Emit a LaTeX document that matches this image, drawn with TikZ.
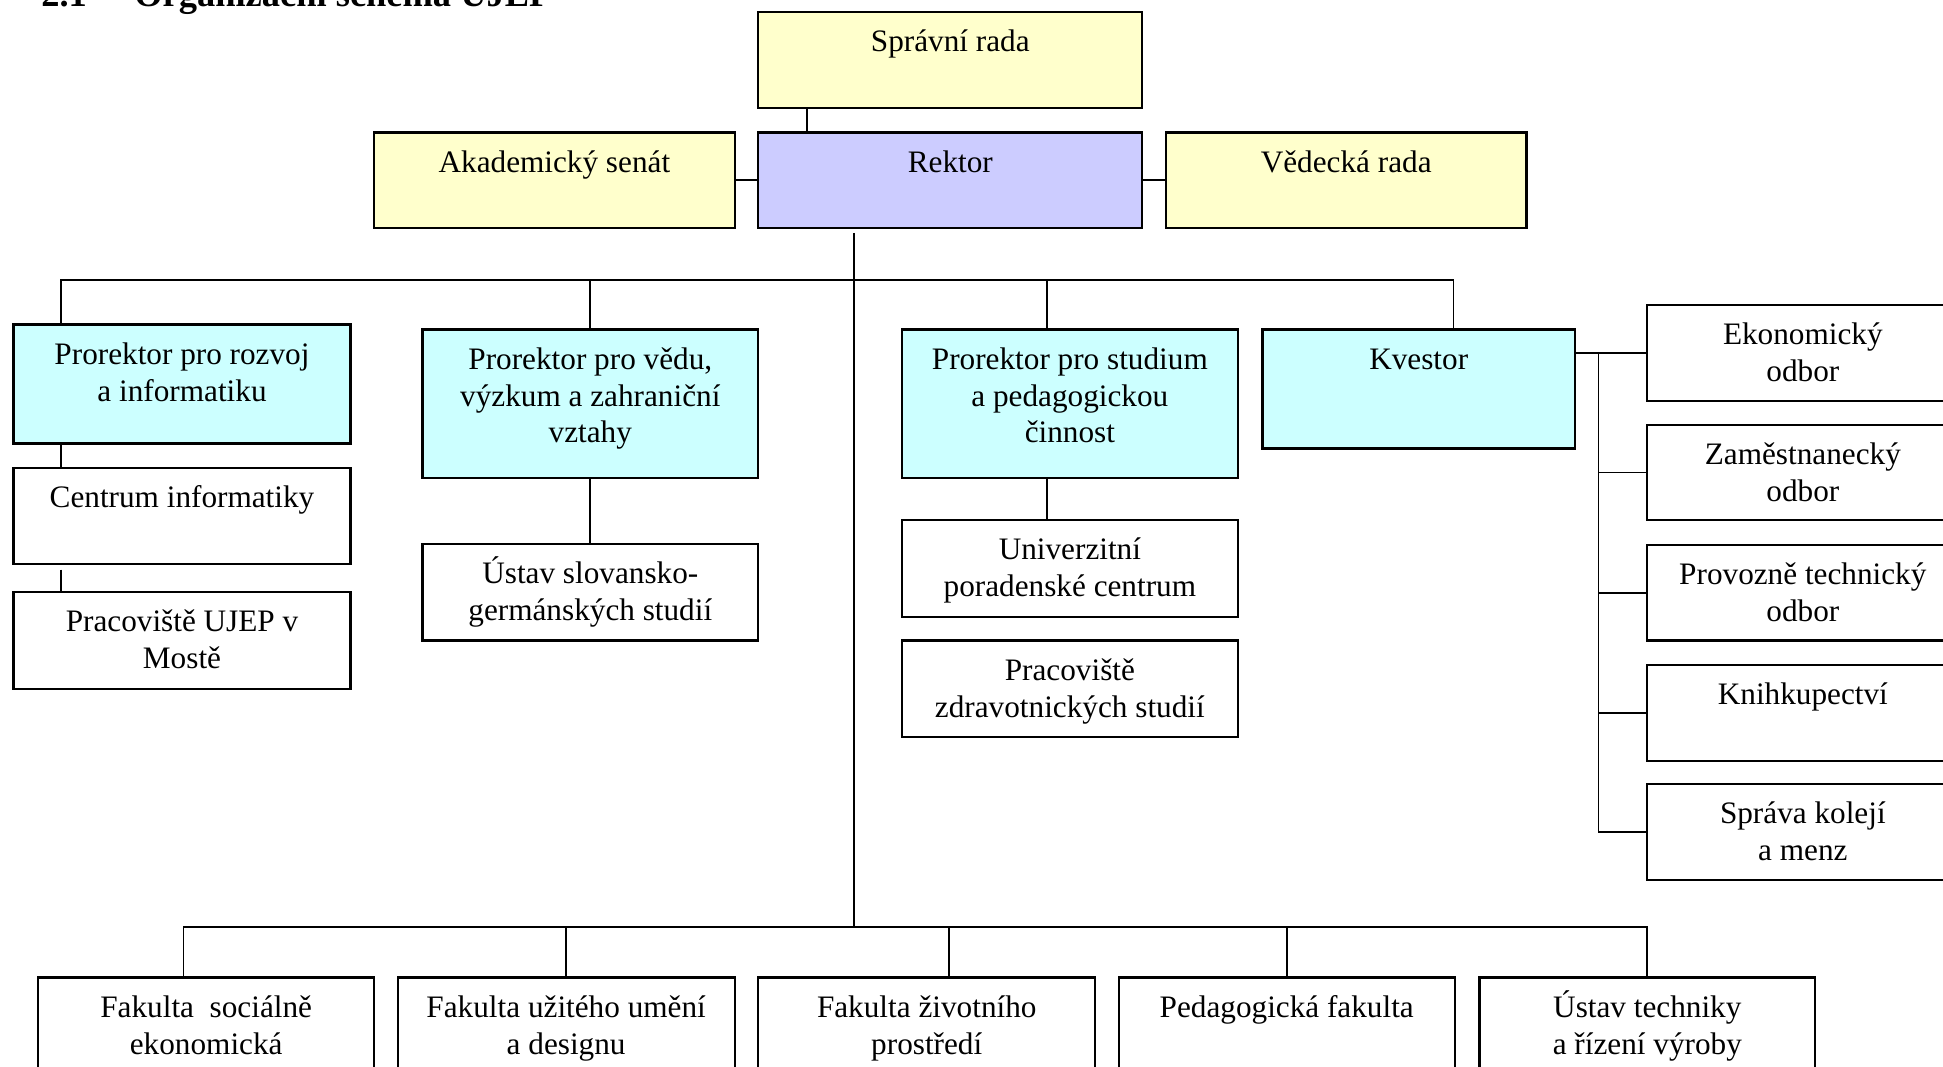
\documentclass[tikz,border=0pt]{standalone}
\usepackage{fontspec}
\setmainfont{Liberation Serif}
\newlength\pxu
\setlength\pxu{0.476pt}
\newcommand{\bt}[3]{\parbox[c][#2\pxu][t]{#1\pxu}{\centering\rule{0pt}{15.2pt}#3}}
\definecolor{yel}{HTML}{FFFFCC}
\definecolor{lav}{HTML}{CCCCFF}
\definecolor{cyn}{HTML}{CCFFFF}
\begin{document}
\begin{tikzpicture}[x=0.476pt,y=-0.476pt,
  box/.style={draw,line width=0.85pt,inner sep=0pt,anchor=north west,font=\fontsize{12}{14.2}\selectfont},
  conn/.style={line width=0.65pt},
  ttl/.style={anchor=base west,inner sep=0pt,font=\fontsize{14}{16}\selectfont\bfseries}]
\useasboundingbox (0,0) rectangle (1568,861);
\clip (0,0) rectangle (1568,861);
% title (cut off at top)
\node[ttl] (tnum) at (33,5) {2.1};
\node[ttl] (ttext) at (108,5) {Organizační schéma UJEP};
% top level
\node[box,fill=yel] (sr) at (611,9) {\bt{310}{77}{Správní rada}};
\node[box,fill=yel] (ak) at (301,106) {\bt{291}{77}{Akademický senát}};
\node[box,fill=lav] (rk) at (611,106) {\bt{310}{77}{Rektor}};
\node[box,fill=yel] (vr) at (940,106) {\bt{291}{77}{Vědecká rada}};
% prorektori
\node[box,fill=cyn] (p1) at (10,261) {\bt{272}{96}{Prorektor pro rozvoj\\a informatiku}};
\node[box] (ci) at (10,377) {\bt{272}{77}{Centrum informatiky}};
\node[box] (pm) at (10,477) {\bt{272}{78}{Pracoviště UJEP v\\Mostě}};
\node[box,fill=cyn] (p2) at (340,265) {\bt{271}{120}{Prorektor pro vědu,\\výzkum a zahraniční\\vztahy}};
\node[box] (us) at (340,438) {\bt{271}{78}{Ústav slovansko-\\germánských studií}};
\node[box,fill=cyn] (p3) at (727,265) {\bt{271}{120}{Prorektor pro studium\\a pedagogickou\\činnost}};
\node[box] (up) at (727,419) {\bt{271}{78}{Univerzitní\\poradenské centrum}};
\node[box] (pz) at (727,516) {\bt{271}{78}{Pracoviště\\zdravotnických studií}};
\node[box,fill=cyn] (kv) at (1018,265) {\bt{252}{96}{Kvestor}};
% kvestor units
\node[box] (eo) at (1328,245) {\bt{252}{78}{Ekonomický\\odbor}};
\node[box] (zo) at (1328,342) {\bt{252}{77}{Zaměstnanecký\\odbor}};
\node[box] (po) at (1328,439) {\bt{252}{77}{Provozně technický\\odbor}};
\node[box] (kn) at (1328,536) {\bt{252}{77}{Knihkupectví}};
\node[box] (sk) at (1328,632) {\bt{252}{77}{Správa kolejí\\a menz}};
% faculties
\node[box] (fs) at (30,788) {\bt{271}{78}{Fakulta\ \ sociálně\\ekonomická}};
\node[box] (fu) at (320,788) {\bt{272}{78}{Fakulta užitého umění\\a designu}};
\node[box] (fz) at (611,788) {\bt{272}{78}{Fakulta životního\\prostředí}};
\node[box] (pf) at (902,788) {\bt{271}{78}{Pedagogická fakulta}};
\node[box] (ut) at (1193,788) {\bt{271}{78}{Ústav techniky\\a řízení výroby}};
% coordinates
\coordinate (tt) at (689,188);
\coordinate (ub) at (689,226);
\coordinate (tb) at (689,748);
\coordinate (kb) at (1290,284);
\coordinate (sra) at ([xshift=40\pxu]sr.south west);
\coordinate (rka) at ([xshift=40\pxu]rk.north west);
\coordinate (d1) at ([xshift=39\pxu]p1.north west);
\coordinate (d1b) at ([xshift=39\pxu]p1.south west);
\coordinate (d1c) at ([xshift=39\pxu,yshift=-4\pxu]ci.south west);
\coordinate (d3) at ([xshift=118\pxu]p3.north west);
\coordinate (d3b) at ([xshift=118\pxu]p3.south west);
\coordinate (d4) at ([xshift=155\pxu]kv.north west);
\coordinate (b1) at ([xshift=118\pxu]fs.north west);
\coordinate (b3) at ([xshift=155\pxu]fz.north west);
% connectors
\draw[conn] (sra) -- (rka);
\draw[conn] (ak.east) -- (rk.west);
\draw[conn] (rk.east) -- (vr.west);
\draw[conn] (tt) -- (tb);
\draw[conn] (d1) |- (ub) -| (d4);
\draw[conn] (p2.north) -- (p2.north |- ub);
\draw[conn] (d3) -- (d3 |- ub);
\draw[conn] (d1b) -- (d1b |- ci.north);
\draw[conn] (d1c) -- (d1c |- pm.north);
\draw[conn] (p2.south) -- (us.north);
\draw[conn] (d3b) -- (d3b |- up.north);
\draw[conn] (eo.west -| kv.east) -- (eo.west);
\draw[conn] (kb) |- (sk.west);
\draw[conn] (zo.west -| kb) -- (zo.west);
\draw[conn] (po.west -| kb) -- (po.west);
\draw[conn] (kn.west -| kb) -- (kn.west);
\draw[conn] (b1) |- (tb) -| (ut.north);
\draw[conn] (fu.north) -- (fu.north |- tb);
\draw[conn] (b3) -- (b3 |- tb);
\draw[conn] (pf.north) -- (pf.north |- tb);
\end{tikzpicture}
\end{document}
